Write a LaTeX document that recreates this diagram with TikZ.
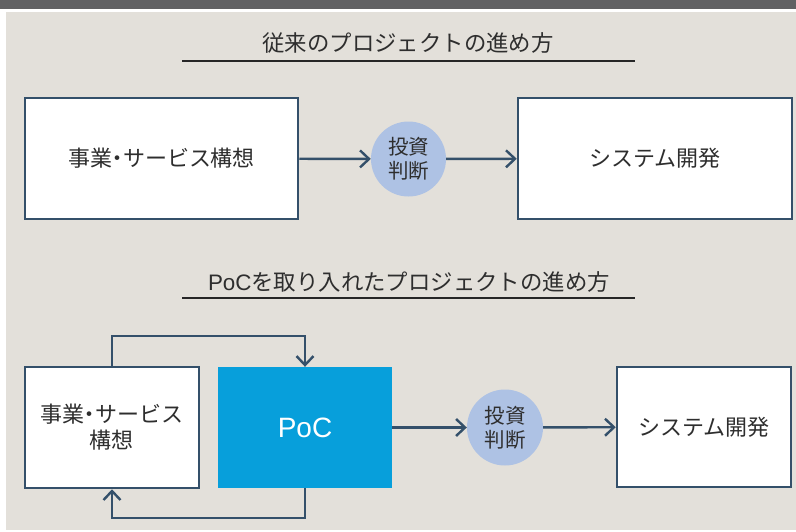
\documentclass[tikz,border=0pt]{standalone}
\usepackage{fontspec}
\setmainfont{Noto Sans CJK JP}
\newfontfamily\latinfont{Liberation Sans}
\usetikzlibrary{arrows.meta}
\definecolor{bg}{HTML}{E3E0DA}
\definecolor{bar}{HTML}{616163}
\definecolor{edge}{HTML}{34506A}
\definecolor{circ}{HTML}{AEC2E4}
\definecolor{pocblue}{HTML}{079FDB}
\definecolor{txt}{HTML}{2E2E2E}
\newcommand{\nakaguro}{\kern-0.25em・\kern-0.25em}
\begin{document}
\begin{tikzpicture}[x=1pt,y=-1pt,
  box/.style={draw=edge, line width=2.5pt, fill=white, inner sep=0pt, text=txt,
    font=\fontsize{22}{26}\selectfont, align=center},
  judge/.style={circle, fill=circ, minimum size=75pt, inner sep=0pt, text=txt,
    font=\fontsize{20.5}{24}\selectfont, align=center},
  flow/.style={draw=edge, line width=2.4pt, -{Straight Barb[length=9pt,width=17pt]}},
  title/.style={text=txt, font=\fontsize{22.4}{26}\selectfont, inner sep=0pt},
  rulebar/.style={draw=black!85, line width=2.2pt}]
% canvas
\useasboundingbox (0,0) rectangle (796,531);
\fill[white] (0,0) rectangle (796,531);
\fill[bar] (0,0) rectangle (796,9);
\fill[bg] (6,12) rectangle (796,530);
% section 1
\node[title] (t1) at (408,43) {従来のプロジェクトの進め方};
\coordinate (u1a) at (182,61);
\coordinate (u1b) at (635,61);
\draw[rulebar] (u1a) -- (u1b);
\node[box, minimum width=273pt, minimum height=121pt] (b1) at (161.5,158.5) {事業\nakaguro サービス構想};
\node[judge] (c1) at (408.5,159) {投資\\判断};
\node[box, minimum width=274pt, minimum height=121pt] (b2) at (655,158.5) {システム開発};
\draw[flow] (b1) -- (c1);
\draw[flow] (c1) -- (b2);
% section 2
\node[title] (t2) at (409,282) {{\latinfont PoC}を取り入れたプロジェクトの進め方};
\coordinate (u2a) at (182,298);
\coordinate (u2b) at (635,298);
\draw[rulebar] (u2a) -- (u2b);
\node[box, minimum width=174pt, minimum height=121pt] (b3) at (112,427.5) {事業\nakaguro サービス\\構想};
\node[fill=pocblue, text=white, minimum width=174pt, minimum height=121pt, inner sep=0pt,
  font=\latinfont\fontsize{28}{30}\selectfont] (poc) at (305,427.5) {PoC};
\node[judge, minimum size=76pt] (c2) at (505,427.5) {投資\\判断};
\node[box, minimum width=174pt, minimum height=120pt] (b4) at (704,427) {システム開発};
\draw[flow] (b3.north) -- ++(0,-30) -| (poc.north);
\draw[flow] (poc.south) -- ++(0,30) -| (b3.south);
\draw[flow] (poc) -- (c2);
\draw[flow] (c2) -- (b4);
\end{tikzpicture}
\end{document}
